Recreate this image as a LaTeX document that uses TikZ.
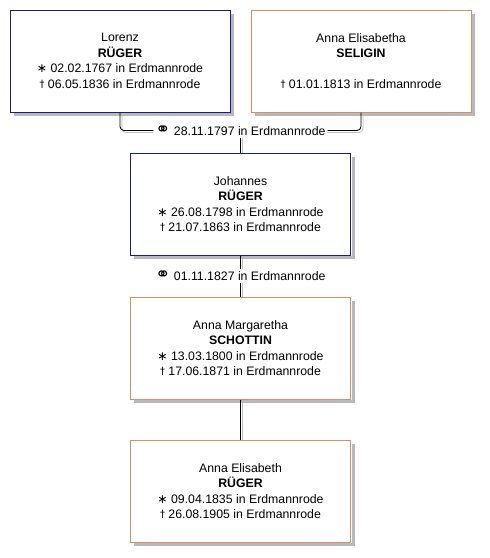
\documentclass[tikz,border=0pt]{standalone}
\usepackage{fontspec}
\setmainfont{Liberation Sans}
\newfontfamily\symfont{DejaVu Sans}
\usepackage{tikz}
\usetikzlibrary{positioning,calc}
\definecolor{manblue}{HTML}{1A1A8C}
\definecolor{womanrose}{HTML}{D98C66}
\newcommand{\born}{{\symfont ∗}}
\newcommand{\died}{{\symfont\raisebox{1pt}{\fontsize{10}{10}\selectfont †}}}
\newcommand{\wed}{{\symfont\fontsize{18}{12}\selectfont ⚭}}

\begin{document}
\begin{tikzpicture}[
    person/.style={draw, fill=white, line width=1pt, minimum width=220pt,
                   minimum height=102pt, align=center,
                   font=\fontsize{12.3}{15.5}\selectfont},
    man/.style={person, draw=manblue},
    woman/.style={person, draw=womanrose},
    marriage/.style={fill=white, inner sep=2pt,
                     font=\fontsize{12.3}{14}\selectfont},
    link/.style={draw=black, line width=0.9pt},
    boxshadow/.style={fill=gray!55},
    linkshadow/.style={draw=gray!50, line width=0.9pt},
  ]
  \fill[white] (0,0) rectangle (490pt,-558pt);

  \node[man] (lorenz) at (120pt,-61pt)
    {Lorenz\\ \textbf{RÜGER}\\ \born\ 02.02.1767 in Erdmannrode\\
     \died\ 06.05.1836 in Erdmannrode};
  \node[woman, right=20pt of lorenz] (seligin)
    {Anna Elisabetha\\ \textbf{SELIGIN}\\ \mbox{}\\
     \died\ 01.01.1813 in Erdmannrode};

  \coordinate (mid1) at ($(lorenz.south)!0.5!(seligin.south)$);
  \node[man, below=40pt of mid1] (johannes)
    {Johannes\\ \textbf{RÜGER}\\ \born\ 26.08.1798 in Erdmannrode\\
     \died\ 21.07.1863 in Erdmannrode};
  \node[marriage] (mar1) at ($(mid1)!0.5!(johannes.north)+(0,2pt)$)
    {\wed\ 28.11.1797 in Erdmannrode};

  \node[woman, below=41pt of johannes] (schottin)
    {Anna Margaretha\\ \textbf{SCHOTTIN}\\ \born\ 13.03.1800 in Erdmannrode\\
     \died\ 17.06.1871 in Erdmannrode};
  \node[marriage] (mar2) at ($(johannes.south)!0.5!(schottin.north)$)
    {\wed\ 01.11.1827 in Erdmannrode};

  \node[woman, below=40pt of schottin] (elisabeth)
    {Anna Elisabeth\\ \textbf{RÜGER}\\ \born\ 09.04.1835 in Erdmannrode\\
     \died\ 26.08.1905 in Erdmannrode};

  \foreach \who in {lorenz,seligin,johannes,schottin,elisabeth} {
    \fill[boxshadow] ($(\who.south west)+(4pt,-0.5pt)$)
      rectangle ($(\who.south east)+(3.5pt,-3.5pt)$);
    \fill[boxshadow] ($(\who.north east)+(0.5pt,-4pt)$)
      rectangle ($(\who.south east)+(3.5pt,-3.5pt)$);
  }

  \draw[linkshadow, rounded corners=4pt]
    ($(lorenz.south)+(2pt,-0.5pt)$) |- ($(mar1.west)+(0,-2pt)$);
  \draw[linkshadow, rounded corners=4pt]
    ($(seligin.south)+(2pt,-0.5pt)$) |- ($(mar1.east)+(0,-2pt)$);
  \draw[linkshadow] ($(mar1.south)+(2pt,0)$) -- ($(johannes.north)+(2pt,0)$);
  \draw[linkshadow] ($(johannes.south)+(2pt,-3.5pt)$) -- ($(mar2.north)+(2pt,0)$);
  \draw[linkshadow] ($(mar2.south)+(2pt,0)$) -- ($(schottin.north)+(2pt,0)$);
  \draw[linkshadow] ($(schottin.south)+(2pt,-3.5pt)$) -- ($(elisabeth.north)+(2pt,0)$);

  \draw[link, rounded corners=4pt] (lorenz.south) |- (mar1.west);
  \draw[link, rounded corners=4pt] (seligin.south) |- (mar1.east);
  \draw[link] (mar1.south) -- (johannes.north);
  \draw[link] (johannes.south) -- (mar2.north);
  \draw[link] (mar2.south) -- (schottin.north);
  \draw[link] (schottin.south) -- (elisabeth.north);

\end{tikzpicture}
\end{document}
